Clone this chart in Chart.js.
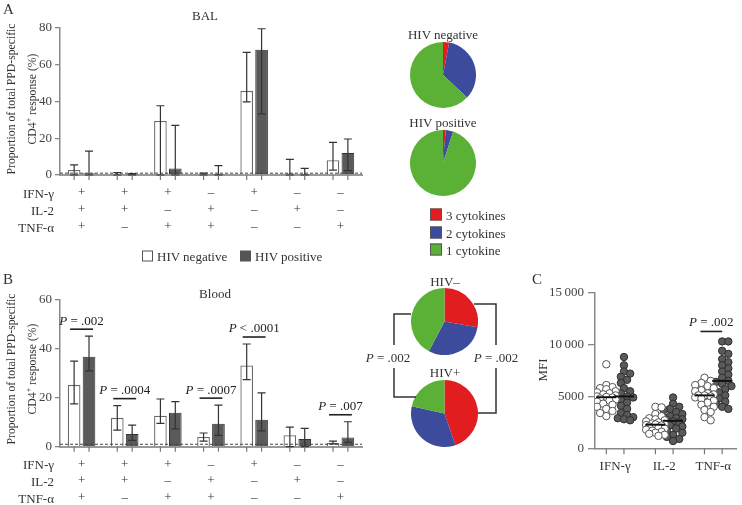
<!DOCTYPE html>
<html>
<head>
<meta charset="utf-8">
<script src="https://cdn.jsdelivr.net/npm/chart.js@4.4.0/dist/chart.umd.min.js"></script>
<style>
body { margin: 0; background: #fff; }
#fig { position: relative; width: 742px; height: 505px; overflow: hidden; font-family: 'Liberation Serif', serif; color: #333; }
#fig canvas { position: absolute; }
.t { position: absolute; white-space: nowrap; line-height: 1; }
.sq { display: inline-block; width: 11px; height: 11px; box-sizing: border-box; vertical-align: -1px; margin-right: 4px; }
</style>
</head>
<body>
<div id="fig">
  <canvas id="barA" width="365" height="240" style="left:0;top:0"></canvas>
  <canvas id="barB" width="365" height="255" style="left:0;top:250px"></canvas>
  <canvas id="pieA1" width="66" height="66" style="left:410px;top:42px"></canvas>
  <canvas id="pieA2" width="66" height="66" style="left:410px;top:130px"></canvas>
  <canvas id="pieB1" width="67" height="67" style="left:411px;top:288px"></canvas>
  <canvas id="pieB2" width="67" height="67" style="left:411px;top:380px"></canvas>
  <canvas id="mfi" width="212" height="235" style="left:530px;top:270px"></canvas>
  <svg width="742" height="505" style="position:absolute;left:0;top:0">
    <polyline points="411,314 394,314 394,345" fill="none" stroke="#333" stroke-width="1.5"/>
    <polyline points="394,368 394,397 416,397" fill="none" stroke="#333" stroke-width="1.5"/>
    <polyline points="474,304 496,304 496,345" fill="none" stroke="#333" stroke-width="1.5"/>
    <polyline points="496,368 496,413 478,413" fill="none" stroke="#333" stroke-width="1.5"/>
  </svg>
</div>
<script>
// combinaisons de cytokines (lignes sous les barres)
const ifnRow = ['+', '+', '+', '–', '+', '–', '–'];
const il2Row = ['+', '+', '–', '+', '–', '+', '–'];
const tnfRow = ['+', '–', '+', '+', '–', '–', '+'];

// BAL (%)
const balNeg = [2.7, 0.3, 29.4, 0.4, 45.8, 0.8, 8.0];
const balNegLo = [0, 0, 0, 0, 39.8, 0, 2.7];
const balNegHi = [5.5, 1.3, 37.7, 1.0, 66.7, 8.5, 17.8];
const balPos = [1.0, 0.2, 3.6, 0.2, 68.2, 0.2, 12.0];
const balPosLo = [0, 0, 0, 0, 33.3, 0, 2.4];
const balPosHi = [13, 0.7, 27, 5.1, 79.6, 3.6, 19.6];

// Blood (%)
const bloodNeg = [25.3, 11.8, 12.7, 4.0, 33.2, 4.7, 1.5];
const bloodNegLo = [17.5, 6.8, 9.5, 2.3, 27.4, 0, 1.1];
const bloodNegHi = [35, 16.8, 19.5, 5.6, 42, 8, 2.3];
const bloodPos = [36.8, 5.2, 13.9, 9.4, 11.0, 3.2, 3.8];
const bloodPosLo = [31, 2.6, 7.3, 4.6, 6.5, 0, 1.8];
const bloodPosHi = [45.2, 8.8, 18.4, 17, 22, 7.5, 10.2];
const bloodP = ['.002', '.0004', '', '.0007', '<.0001', '', '.007'];

// camemberts : 3, 2, 1 cytokines
const pieLabels = ['3 cytokines', '2 cytokines', '1 cytokine'];
const pieColors = ['#e21d1f', '#3c4b9c', '#5bb135'];
const balPieNeg = [3, 34, 63];
const balPiePos = [1.3, 3.7, 95];
const bloodPieNeg = [27.7, 30, 42.3];
const bloodPiePos = [44.7, 33.8, 21.5];

// MFI
const cytokines = ['IFN-γ', 'IL-2', 'TNF-α'];
const ifngNeg = [8100, 6100, 5900, 5800, 5700, 5500, 5400, 5300, 5200, 5100, 5000, 4950, 4900, 4800, 4700, 4600, 4500, 4300, 4200, 4000, 3800, 3600, 3400, 3100];
const ifngPos = [8800, 8000, 7400, 7200, 6900, 6600, 6300, 5800, 5500, 5300, 5100, 5000, 4900, 4700, 4400, 4100, 3800, 3400, 3200, 3000, 2900, 2800, 2700];
const il2Neg = [4000, 3950, 3300, 3100, 2900, 2800, 2700, 2600, 2500, 2400, 2350, 2300, 2250, 2200, 2100, 2000, 1900, 1800, 1700, 1600, 1500, 1400, 1300, 1200];
const il2Pos = [4900, 4300, 4000, 3800, 3700, 3500, 3300, 3100, 3000, 2900, 2800, 2700, 2600, 2500, 2400, 2200, 2100, 1900, 1700, 1500, 1300, 1100, 900, 700];
const tnfNeg = [6800, 6500, 6300, 6100, 6000, 5800, 5600, 5500, 5300, 5200, 5100, 5100, 5000, 4900, 4800, 4600, 4400, 4200, 4000, 3700, 3500, 3000, 2700];
const tnfPos = [10300, 10300, 9400, 9100, 8600, 8300, 8000, 7700, 7400, 7100, 6800, 6500, 6400, 6200, 6000, 5700, 5400, 5100, 4800, 4500, 4300, 4000, 3800];

const FONT = "'Liberation Serif', serif";
const fig = document.getElementById('fig');

// petit utilitaire pour les textes
function txt(s, x, y, o = {}) {
  const d = document.createElement('div');
  d.className = 't';
  d.innerHTML = s;
  d.style.left = x + 'px';
  d.style.top = y + 'px';
  d.style.fontSize = (o.size || 13) + 'px';
  if (o.lh) { d.style.lineHeight = o.lh + 'px'; d.style.textAlign = 'center'; }
  let tf = o.align === 'right' ? 'translate(-100%,-50%)' : o.align === 'left' ? 'translate(0,-50%)' : 'translate(-50%,-50%)';
  if (o.rot) tf += ' rotate(-90deg)';
  d.style.transform = tf;
  fig.appendChild(d);
}

function pText(ctx, s, cx, cy) {
  ctx.save();
  ctx.textBaseline = 'middle';
  ctx.fillStyle = '#222';
  const italic = 'italic 13px ' + FONT, normal = '13px ' + FONT;
  const rest = s.startsWith('<') ? ' < ' + s.slice(1) : ' = ' + s;
  ctx.font = italic; const w1 = ctx.measureText('P').width;
  ctx.font = normal; const w2 = ctx.measureText(rest).width;
  let x = cx - (w1 + w2) / 2;
  ctx.textAlign = 'left';
  ctx.font = italic; ctx.fillText('P', x, cy);
  ctx.font = normal; ctx.fillText(rest, x + w1, cy);
  ctx.restore();
}

// barres d'erreur, ligne pointillee, traits sous les barres, valeurs P
const barExtras = {
  id: 'barExtras',
  afterDatasetsDraw(chart, args, o) {
    const ctx = chart.ctx, ys = chart.scales.y, area = chart.chartArea;
    ctx.save();
    // ligne pointillee du seuil
    ctx.strokeStyle = '#444';
    ctx.lineWidth = 1;
    ctx.setLineDash([3, 2]);
    const yd = ys.getPixelForValue(o.dash);
    ctx.beginPath(); ctx.moveTo(area.left, yd); ctx.lineTo(area.right, yd); ctx.stroke();
    ctx.setLineDash([]);
    // barres d'erreur
    [0, 1].forEach(d => {
      const meta = chart.getDatasetMeta(d);
      meta.data.forEach((el, i) => {
        const yh = ys.getPixelForValue(o.hi[d][i]);
        const yl = ys.getPixelForValue(o.lo[d][i]);
        ctx.strokeStyle = '#333';
        ctx.lineWidth = 1.2;
        ctx.beginPath();
        ctx.moveTo(el.x, yh); ctx.lineTo(el.x, yl);
        ctx.moveTo(el.x - 4, yh); ctx.lineTo(el.x + 4, yh);
        ctx.moveTo(el.x - 4, yl); ctx.lineTo(el.x + 4, yl);
        ctx.stroke();
        // trait sous l'axe
        ctx.strokeStyle = '#777';
        ctx.beginPath(); ctx.moveTo(el.x, area.bottom); ctx.lineTo(el.x, area.bottom + 5); ctx.stroke();
      });
    });
    // valeurs P
    if (o.pvals) {
      const m0 = chart.getDatasetMeta(0), m1 = chart.getDatasetMeta(1);
      o.pvals.forEach((p, i) => {
        if (!p) return;
        const top = Math.min(ys.getPixelForValue(o.hi[0][i]), ys.getPixelForValue(o.hi[1][i]));
        const yl = top - 7;
        const x1 = m0.data[i].x - 4, x2 = m1.data[i].x + 4;
        ctx.strokeStyle = '#222';
        ctx.lineWidth = 1.6;
        ctx.beginPath(); ctx.moveTo(x1, yl); ctx.lineTo(x2, yl); ctx.stroke();
        pText(ctx, p, (x1 + x2) / 2, yl - 8);
      });
    }
    ctx.restore();
  }
};

function barChart(id, neg, pos, lo, hi, yMax, step, topPx, bottomPx, pvals) {
  const el = document.getElementById(id);
  const labels = ifnRow.map((v, i) => [v, il2Row[i], tnfRow[i]]);
  return new Chart(el, {
    type: 'bar',
    data: {
      labels: labels,
      datasets: [
        { label: 'HIV negative', data: neg, backgroundColor: '#ffffff', borderColor: '#6a6a6a', borderWidth: 1.3 },
        { label: 'HIV positive', data: pos, backgroundColor: '#5a5a5a', borderColor: '#333', borderWidth: 1 }
      ]
    },
    options: {
      responsive: false,
      animation: false,
      layout: { padding: { top: topPx, right: 3, left: 0, bottom: 0 } },
      categoryPercentage: 0.69,
      barPercentage: 0.85,
      plugins: { legend: { display: false }, tooltip: { enabled: false }, barExtras: { lo: lo, hi: hi, dash: 1, pvals: pvals } },
      scales: {
        x: {
          grid: { display: false, drawTicks: false },
          border: { display: true, color: '#999', width: 2 },
          ticks: { color: '#333', padding: 9, font: { family: FONT, size: 13, lineHeight: 1.3 }, maxRotation: 0, autoSkip: false },
          afterFit: s => { s.height = el.height - bottomPx; }
        },
        y: {
          min: 0, max: yMax,
          ticks: { stepSize: step, color: '#444', padding: 3, font: { family: FONT, size: 13 } },
          grid: { drawOnChartArea: false, tickLength: 5, color: '#888', lineWidth: 1.3 },
          border: { color: '#888', width: 1.5 },
          afterFit: s => { s.width = 60; }
        }
      }
    },
    plugins: [barExtras]
  });
}

barChart('barA', balNeg, balPos, [balNegLo, balPosLo], [balNegHi, balPosHi], 80, 20, 28, 175, null);
barChart('barB', bloodNeg, bloodPos, [bloodNegLo, bloodPosLo], [bloodNegHi, bloodPosHi], 60, 20, 50, 196.7, bloodP);

function pie(id, vals) {
  new Chart(document.getElementById(id), {
    type: 'pie',
    data: { labels: pieLabels, datasets: [{ data: vals, backgroundColor: pieColors, borderWidth: 0 }] },
    options: { responsive: false, animation: false, layout: { padding: 0 }, plugins: { legend: { display: false }, tooltip: { enabled: false } } }
  });
}
pie('pieA1', balPieNeg);
pie('pieA2', balPiePos);
pie('pieB1', bloodPieNeg);
pie('pieB2', bloodPiePos);

// nuage de points MFI, disposition en essaim
const colOff = 0.18;
function swarm(vals, center) {
  const pxX = 50.85, pxY = 155.7 / 15000, step = 3.2, minD = 5.4;
  const placed = [];
  const cand = [0, 1, -1, 2, -2, 3, -3];
  return vals.slice().sort((a, b) => b - a).map(v => {
    let best = null, bestD = -1;
    for (const k of cand) {
      const dx = k * step;
      const d = placed.reduce((m, p) => Math.min(m, Math.hypot(p.dx - dx, (p.v - v) * pxY)), 99);
      if (d >= minD) { best = k; break; }
      if (d > bestD) { bestD = d; best = k; }
    }
    placed.push({ dx: best * step, v: v });
    return { x: center + best * step / pxX, y: v };
  });
}
const negCols = [ifngNeg, il2Neg, tnfNeg];
const posCols = [ifngPos, il2Pos, tnfPos];
const negPts = negCols.flatMap((c, i) => swarm(c, i - colOff));
const posPts = posCols.flatMap((c, i) => swarm(c, i + colOff));

function median(a) {
  const s = a.slice().sort((x, y) => x - y), n = s.length;
  return n % 2 ? s[(n - 1) / 2] : (s[n / 2 - 1] + s[n / 2]) / 2;
}

const mfiExtras = {
  id: 'mfiExtras',
  afterDatasetsDraw(chart) {
    const ctx = chart.ctx, xs = chart.scales.x, ys = chart.scales.y, area = chart.chartArea;
    ctx.save();
    [[negCols, -colOff], [posCols, colOff]].forEach(([cols, off]) => {
      cols.forEach((c, i) => {
        const cx = xs.getPixelForValue(i + off);
        const ym = ys.getPixelForValue(median(c));
        ctx.strokeStyle = '#111'; ctx.lineWidth = 2;
        ctx.beginPath(); ctx.moveTo(cx - 10, ym); ctx.lineTo(cx + 10, ym); ctx.stroke();
        ctx.strokeStyle = '#777'; ctx.lineWidth = 1.2;
        ctx.beginPath(); ctx.moveTo(cx, area.bottom); ctx.lineTo(cx, area.bottom + 6); ctx.stroke();
      });
    });
    const x1 = xs.getPixelForValue(2 - colOff) - 4, x2 = xs.getPixelForValue(2 + colOff);
    const yl = ys.getPixelForValue(Math.max(...tnfPos)) - 10;
    ctx.strokeStyle = '#222'; ctx.lineWidth = 1.6;
    ctx.beginPath(); ctx.moveTo(x1, yl); ctx.lineTo(x2, yl); ctx.stroke();
    pText(ctx, '.002', (x1 + x2) / 2, yl - 9);
    ctx.restore();
  }
};

const mfiEl = document.getElementById('mfi');
new Chart(mfiEl, {
  type: 'scatter',
  data: {
    datasets: [
      { label: 'HIV negative', data: negPts, backgroundColor: '#ffffff', borderColor: '#555', borderWidth: 1, pointRadius: 3.7 },
      { label: 'HIV positive', data: posPts, backgroundColor: '#5a5a5a', borderColor: '#2e2e2e', borderWidth: 1, pointRadius: 3.7 }
    ]
  },
  options: {
    responsive: false,
    animation: false,
    layout: { padding: { top: 22.7, right: 0, left: 0, bottom: 0 } },
    plugins: { legend: { display: false }, tooltip: { enabled: false } },
    scales: {
      x: {
        type: 'linear', min: -0.41, max: 2.48,
        afterBuildTicks: s => { s.ticks = cytokines.map((c, i) => ({ value: i })); },
        ticks: { callback: v => cytokines[v], color: '#333', padding: 10, font: { family: FONT, size: 13 } },
        grid: { display: false, drawTicks: false },
        border: { color: '#888', width: 1.5 },
        afterFit: s => { s.height = mfiEl.height - 178.3; }
      },
      y: {
        min: 0, max: 15000,
        ticks: { stepSize: 5000, color: '#444', padding: 4, font: { family: FONT, size: 13 },
          callback: v => v >= 10000 ? (v / 1000) + '\u2009000' : String(v) },
        grid: { drawOnChartArea: false, tickLength: 7, color: '#888', lineWidth: 1.3 },
        border: { color: '#888', width: 1.5 },
        afterFit: s => { s.width = 65; }
      }
    }
  },
  plugins: [mfiExtras]
});

// textes
txt('A', 3, 9, { size: 15, align: 'left' });
txt('B', 3, 279, { size: 15, align: 'left' });
txt('C', 532, 279, { size: 15, align: 'left' });
txt('BAL', 205, 15);
txt('Blood', 215, 293);
const yTitle = 'Proportion of total PPD-specific<br>CD4<sup style="font-size:8px">+</sup> response (%)';
txt(yTitle, 22, 99, { rot: true, lh: 17, size: 11.7 });
txt(yTitle, 22, 369, { rot: true, lh: 17, size: 11.7 });
txt('MFI', 542, 370, { rot: true });
[['IFN-γ', 193, 464], ['IL-2', 210, 481], ['TNF-α', 227, 498]].forEach(r => {
  txt(r[0], 54, r[1], { align: 'right' });
  txt(r[0], 54, r[2], { align: 'right' });
});
txt('<span class="sq" style="border:1.2px solid #555;background:#fff"></span>HIV negative', 142, 256, { align: 'left' });
txt('<span class="sq" style="background:#555"></span>HIV positive', 240, 256, { align: 'left' });
txt('HIV negative', 443, 34);
txt('HIV positive', 443, 122);
txt('HIV–', 445, 281);
txt('HIV+', 445, 372);
pieLabels.forEach((l, i) => {
  txt('<span class="sq" style="width:12px;height:12px;border:1px solid #555;background:' + pieColors[i] + '"></span>' + l, 430, 215 + i * 17.5, { align: 'left' });
});
txt('<i>P</i> = .002', 388, 357);
txt('<i>P</i> = .002', 496, 357);
</script>
</body>
</html>
